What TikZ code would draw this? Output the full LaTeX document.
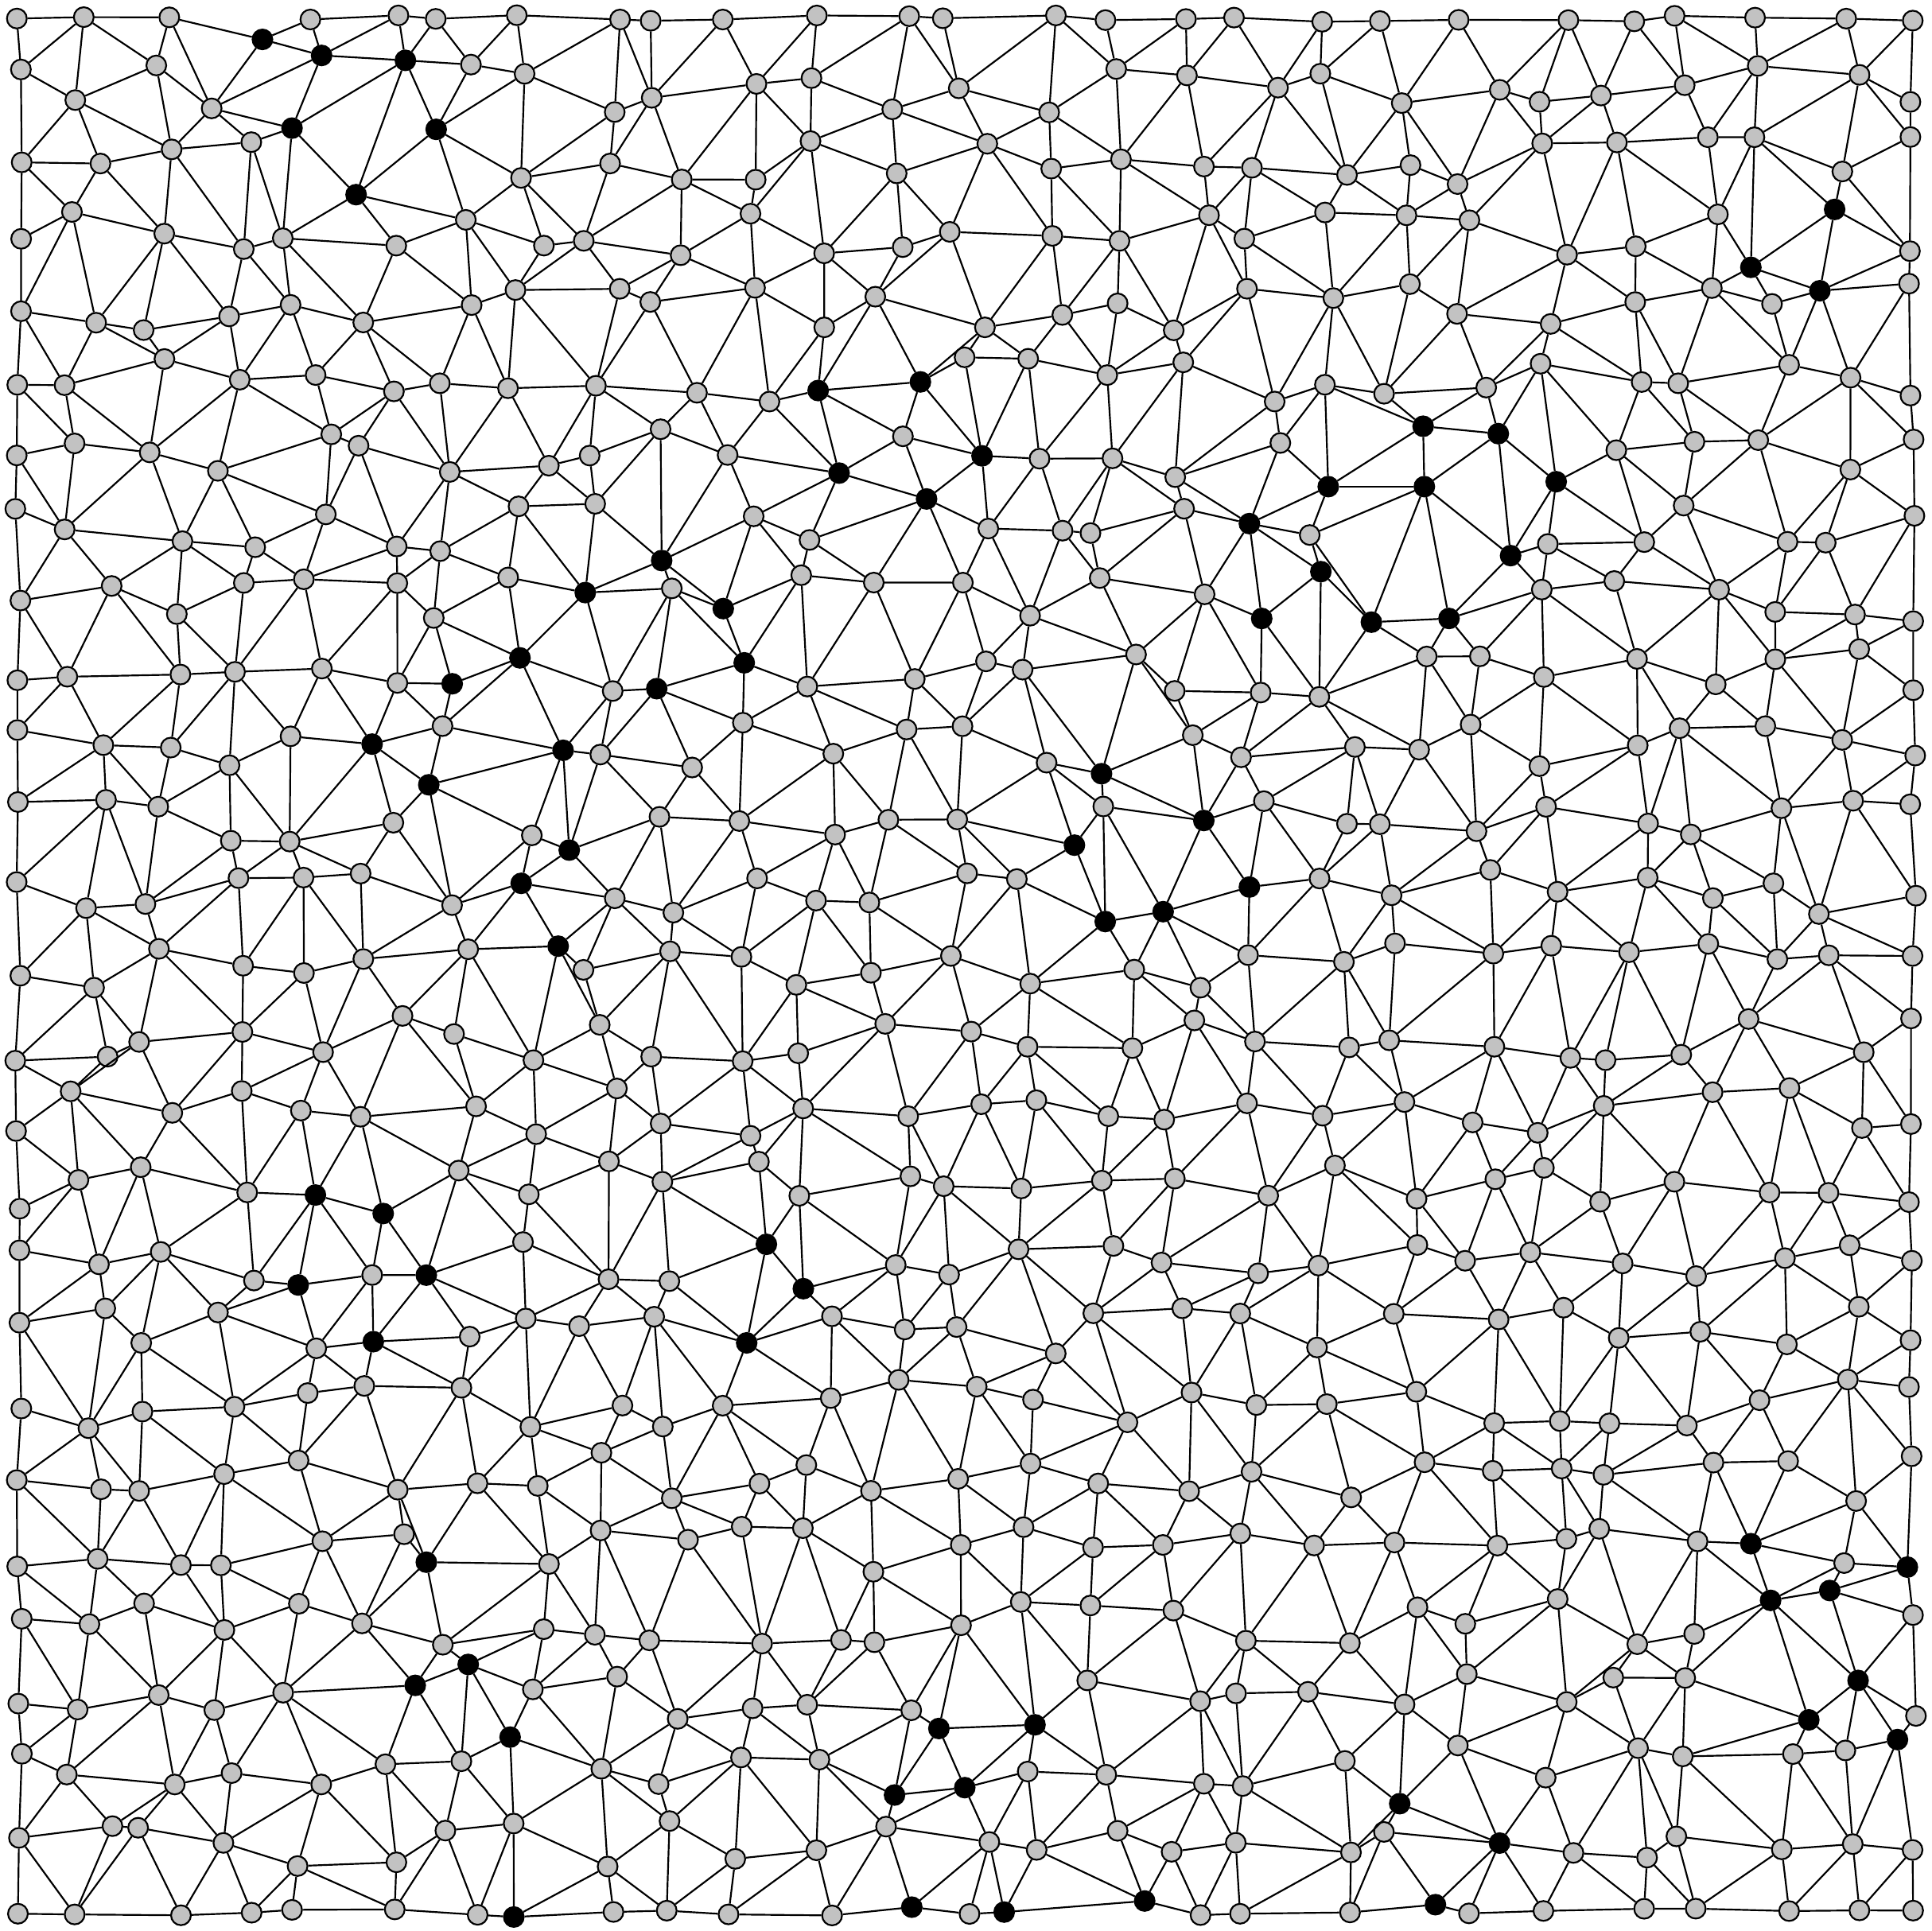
\documentclass[tikz,border=0pt]{standalone}
\tikzset{
  vert/.style = {circle, draw=black, fill=lightgray!95, inner sep=0pt,
    minimum size=0.161cm, line width=0.4pt},% noeud gris
  vert_b/.style = {vert, fill=black},% noeud noir
  link/.style = {line width=0.4pt}
}
% cells with a black vertex: col-row/x/y
\def\blacklist{3-0/213/32, 4-1/261/45, 5-1/329/49, 4-2/237/104, 6-2/354/105,
  5-2/289/158, 11-5/664/317, 12-5/747/310, 11-6/681/384, 13-6/797/370,
  12-7/752/405, 9-7/537/455, 8-8/475/481, 10-8/587/494, 10-9/604/538,
  9-9/533/559, 7-9/422/534, 6-9/367/555, 7-10/457/609, 5-10/302/604,
  6-11/348/637, 8-11/462/690, 7-12/423/717, 7-13/453/768, 14-11/872/686,
  15-12/897/748, 16-12/944/740, 17-12/1014/720, 16-11/977/666, 15-10/894/628,
  19-6/1155/346, 20-6/1216/352, 21-6/1263/391, 18-6/1078/395, 19-7/1156/395,
  17-7/1014/425, 18-8/1072/464, 19-8/1113/505, 20-8/1176/502, 20-7/1226/451,
  17-8/1024/502, 25-3/1489/170, 24-3/1421/217, 25-4/1477/236, 4-16/256/970,
  5-16/311/985, 6-17/346/1035, 4-17/242/1043, 5-18/303/1089, 10-17/622/1010,
  11-17/652/1046, 10-18/606/1090, 6-21/346/1268, 5-23/337/1368, 6-23/380/1351,
  7-24/414/1410, 13-23/762/1403, 14-23/840/1400, 12-24/726/1457, 13-24/783/1451,
  12-26/740/1548, 14-26/815/1552, 7-26/417/1556, 15-26/929/1543, 19-26/1165/1546,
  19-24/1136/1464, 20-25/1217/1496, 24-21/1421/1253, 25-22/1485/1291,
  24-22/1437/1299, 26-21/1548/1272, 25-23/1508/1364, 24-23/1468/1396,
  26-24/1540/1412}

\begin{document}
\begin{tikzpicture}[x=0.01cm, y=-0.01cm]
\useasboundingbox (0,0) rectangle (1568,1567);
\pgfmathsetseed{2718}
\foreach \c/\bx/\by in \blacklist {
  \expandafter\xdef\csname bx-\c\endcsname{\bx}
  \expandafter\xdef\csname by-\c\endcsname{\by}
}
% vertices on a shaken grid
\foreach \i in {0,...,26} {
  \foreach \j in {0,...,26} {
    \pgfmathsetmacro\px{ifthenelse(\i==0, 12+6*rnd,
      ifthenelse(\i==26, 1555-6*rnd, 12+\i*59.35+20*rand))}
    \pgfmathsetmacro\py{ifthenelse(\j==0, 12+6*rnd,
      ifthenelse(\j==26, 1555-6*rnd, 12+\j*59.35+20*rand))}
    \def\st{vert}
    \ifcsname bx-\i-\j\endcsname
      \edef\px{\csname bx-\i-\j\endcsname}
      \edef\py{\csname by-\i-\j\endcsname}
      \def\st{vert_b}
    \fi
    \expandafter\xdef\csname px-\i-\j\endcsname{\px}
    \expandafter\xdef\csname py-\i-\j\endcsname{\py}
    \node[\st] (v-\i-\j) at (\px,\py) {};
  }
}
% edges: grid sides plus the shorter diagonal of each cell
\foreach \i in {0,...,26} {
  \foreach \j in {0,...,26} {
    \pgfmathtruncatemacro\ii{\i+1}
    \pgfmathtruncatemacro\jj{\j+1}
    \ifnum\i<26 \draw[link] (v-\i-\j) -- (v-\ii-\j); \fi
    \ifnum\j<26 \draw[link] (v-\i-\j) -- (v-\i-\jj); \fi
    \ifnum\i<26 \ifnum\j<26
      \edef\xa{\csname px-\i-\j\endcsname}\edef\ya{\csname py-\i-\j\endcsname}
      \edef\xb{\csname px-\ii-\jj\endcsname}\edef\yb{\csname py-\ii-\jj\endcsname}
      \edef\xc{\csname px-\ii-\j\endcsname}\edef\yc{\csname py-\ii-\j\endcsname}
      \edef\xd{\csname px-\i-\jj\endcsname}\edef\yd{\csname py-\i-\jj\endcsname}
      \pgfmathsetmacro\dab{veclen((\xa-\xb)/10,(\ya-\yb)/10)}
      \pgfmathsetmacro\dcd{veclen((\xc-\xd)/10,(\yc-\yd)/10)}
      \ifdim\dab pt<\dcd pt
        \draw[link] (v-\i-\j) -- (v-\ii-\jj);
      \else
        \draw[link] (v-\ii-\j) -- (v-\i-\jj);
      \fi
    \fi\fi
  }
}
\end{tikzpicture}
\end{document}
